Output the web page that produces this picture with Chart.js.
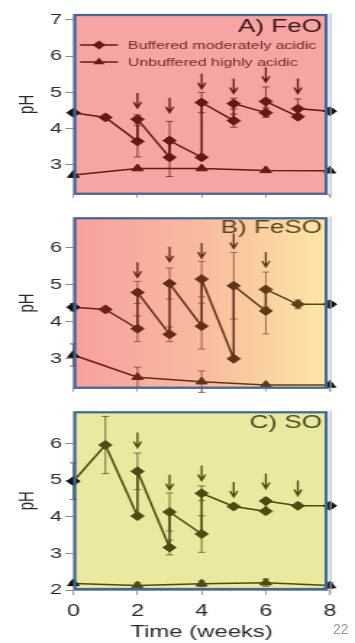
<!DOCTYPE html>
<html>
<head>
<meta charset="utf-8">
<script src="https://cdn.jsdelivr.net/npm/chart.js@4/dist/chart.umd.min.js"></script>
<style>
  body { margin: 0; background: #fff; }
  #wrap { position: relative; width: 355px; height: 643px; }
  canvas { position: absolute; left: 0; }
  #pagina { position: absolute; left: 333px; top: 621px; font: 14px "Liberation Sans", Arial, sans-serif; color: #9a9a9a; }
</style>
</head>
<body>
<div id="wrap">
  <!-- the original figure is stretched sideways, so the canvases are drawn narrow and widened by css -->
  <canvas id="graficoA" width="245" height="206" style="top:0;width:355px;height:206px"></canvas>
  <canvas id="graficoB" width="245" height="194" style="top:206px;width:355px;height:194px"></canvas>
  <canvas id="graficoC" width="245" height="243" style="top:400px;width:355px;height:243px"></canvas>
  <div id="pagina">22</div>
</div>
<script>
// Datos comunes
const xTicks = [0, 2, 4, 6, 8];
const sampleWeeks = [0, 2, 4, 6, 8];
const seriesNames = ["Buffered moderately acidic", "Unbuffered highly acidic"];
const panelTitles = ["A) FeO", "B) FeSO", "C) SO"];

// A) FeO
const weeksA = [0, 1, 2, 2, 3, 3, 4, 4, 5, 5, 6, 6, 7, 7, 8];
const bufferedA = [4.44, 4.31, 3.65, 4.26, 3.21, 3.67, 3.21, 4.72, 4.22, 4.69, 4.44, 4.75, 4.33, 4.55, 4.48];
const bufferedErrA = [0.05, 0.06, 0.43, 0.12, 0.53, 0.53, 0.05, 0.28, 0.18, 0.15, 0.13, 0.4, 0.07, 0.27, 0.04];
const unbufferedA = [2.72, 2.9, 2.9, 2.85, 2.84];
const unbufferedErrA = [0, 0, 0, 0, 0];
const arrowWeeksA = [2, 3, 4, 5, 6, 7];
const arrowTipsA = [4.57, 4.44, 5.1, 4.97, 5.28, 4.97];
const yTicksA = [3, 4, 5, 6, 7];

// B) FeSO
const weeksB = [0, 1, 2, 2, 3, 3, 4, 4, 5, 5, 6, 6, 7, 8];
const bufferedB = [4.39, 4.33, 3.81, 4.79, 3.66, 5.03, 3.88, 5.15, 3.0, 4.97, 4.29, 4.87, 4.47, 4.47];
const bufferedErrB = [0.1, 0.05, 0.35, 0.3, 0.2, 0.42, 0.62, 0.48, 0.03, 0.9, 0.62, 0.47, 0.12, 0.04];
const unbufferedB = [3.1, 2.5, 2.38, 2.29, 2.29];
const unbufferedErrB = [0.3, 0.27, 0.29, 0.04, 0.04];
const arrowWeeksB = [2, 3, 4, 5, 6];
const arrowTipsB = [5.2, 5.62, 5.72, 5.98, 5.48];
const yTicksB = [3, 4, 5, 6];

// C) SO
const weeksC = [0, 1, 2, 2, 3, 3, 4, 4, 5, 6, 6, 7, 8];
const bufferedC = [4.97, 5.96, 4.02, 5.24, 3.16, 4.13, 3.53, 4.64, 4.28, 4.15, 4.43, 4.3, 4.3];
const bufferedErrC = [0.5, 0.78, 0.05, 0.5, 0.2, 0.52, 0.5, 0.2, 0.05, 0.05, 0.05, 0.07, 0.05];
const unbufferedC = [2.18, 2.12, 2.17, 2.2, 2.12];
const unbufferedErrC = [0.05, 0.08, 0.08, 0.1, 0.08];
const arrowWeeksC = [2, 3, 4, 5, 6, 7];
const arrowTipsC = [5.89, 4.74, 4.99, 4.54, 4.77, 4.58];
const yTicksC = [2, 3, 4, 5, 6];

const fuente = '"Liberation Sans", Arial, sans-serif';
Chart.defaults.font.family = fuente;

// Devuelve un color plano o un degradado horizontal sobre el area del grafico
function pintar(chart, colores) {
    if (colores.length === 1) return colores[0];
    const area = chart.chartArea;
    if (!area) return colores[0];
    const g = chart.ctx.createLinearGradient(area.left, 0, area.right, 0);
    colores.forEach((c, i) => g.addColorStop(i / (colores.length - 1), c));
    return g;
}

function esExtremo(ctx) {
    return ctx.raw && (ctx.raw.x === xTicks[0] || ctx.raw.x === xTicks[xTicks.length - 1]);
}

function panelPlugin(cfg) {
    return {
        id: "panel",
        beforeDatasetsDraw(chart) {
            const {ctx, chartArea: a, scales: {x, y}} = chart;
            ctx.save();
            // fondo de color
            ctx.fillStyle = pintar(chart, cfg.fondo);
            ctx.fillRect(a.left, a.top, a.right - a.left - 2.4, a.bottom - a.top);
            // barras de error
            ctx.strokeStyle = pintar(chart, cfg.colorError);
            ctx.lineWidth = 1;
            chart.data.datasets.forEach(ds => {
                ds.data.forEach((p, i) => {
                    const e = ds.errores[i];
                    if (!e) return;
                    const px = x.getPixelForValue(p.x);
                    const arriba = y.getPixelForValue(p.y + e);
                    const abajo = y.getPixelForValue(p.y - e);
                    ctx.beginPath();
                    ctx.moveTo(px, arriba); ctx.lineTo(px, abajo);
                    ctx.moveTo(px - 2.5, arriba); ctx.lineTo(px + 2.5, arriba);
                    ctx.moveTo(px - 2.5, abajo); ctx.lineTo(px + 2.5, abajo);
                    ctx.stroke();
                });
            });
            ctx.restore();
        },
        afterDatasetsDraw(chart) {
            const {ctx, chartArea: a, scales: {x, y}} = chart;
            ctx.save();
            // marco gris del eje original
            ctx.strokeStyle = "#b4b4b4";
            ctx.lineWidth = 1;
            ctx.beginPath();
            ctx.moveTo(a.right + 0.5, a.top - 1);
            ctx.lineTo(a.right + 0.5, a.bottom + 3);
            ctx.stroke();
            // recuadro azul
            ctx.strokeStyle = "#41679b";
            ctx.lineWidth = 2.2;
            ctx.strokeRect(a.left + 1, a.top + 1, a.right - a.left - 3.6, a.bottom - a.top - 2);

            // flechas de adicion
            ctx.strokeStyle = pintar(chart, cfg.colorLinea);
            ctx.lineWidth = 1.3;
            cfg.flechas.forEach((w, i) => {
                const px = x.getPixelForValue(w);
                const py = y.getPixelForValue(cfg.puntas[i]);
                ctx.beginPath();
                ctx.moveTo(px, py - 15); ctx.lineTo(px, py);
                ctx.moveTo(px - 2.6, py - 6); ctx.lineTo(px, py); ctx.lineTo(px + 2.6, py - 6);
                ctx.stroke();
            });

            // titulo del panel
            ctx.fillStyle = cfg.colorTitulo;
            ctx.font = "18px " + fuente;
            ctx.textAlign = "right";
            ctx.textBaseline = "middle";
            ctx.fillText(cfg.titulo, a.right - 5.5, a.top + cfg.tituloY);

            // leyenda (solo panel A)
            if (cfg.leyenda) {
                const col = pintar(chart, cfg.colorLinea);
                [31, 48].forEach((dy, i) => {
                    const ly = a.top + dy;
                    ctx.strokeStyle = col;
                    ctx.fillStyle = col;
                    ctx.lineWidth = 1.5;
                    ctx.beginPath();
                    ctx.moveTo(a.left + 4.6, ly); ctx.lineTo(a.left + 30.8, ly);
                    ctx.stroke();
                    const mx = a.left + 17.7;
                    ctx.beginPath();
                    if (i === 0) {
                        ctx.moveTo(mx, ly - 4.5); ctx.lineTo(mx + 4.5, ly);
                        ctx.lineTo(mx, ly + 4.5); ctx.lineTo(mx - 4.5, ly);
                    } else {
                        ctx.moveTo(mx, ly - 4.5); ctx.lineTo(mx + 3.9, ly + 2.25);
                        ctx.lineTo(mx - 3.9, ly + 2.25);
                    }
                    ctx.closePath();
                    ctx.fill();
                    ctx.fillStyle = "#7a2424";
                    ctx.font = "11px " + fuente;
                    ctx.textAlign = "left";
                    ctx.fillText(seriesNames[i], a.left + 37.7, ly + 0.5);
                });
            }
            ctx.restore();
        }
    };
}

function crearPanel(id, cfg) {
    const puntos = (xs, ys) => xs.map((w, i) => ({x: w, y: ys[i]}));
    const colorLinea = c => pintar(c.chart, cfg.colorLinea);
    const colorPunto = c => esExtremo(c) ? "#111111" : pintar(c.chart, cfg.colorLinea);
    const base = {
        showLine: true,
        borderWidth: 1.5,
        borderColor: colorLinea,
        pointBackgroundColor: colorPunto,
        pointBorderColor: colorPunto,
        pointBorderWidth: 1,
        pointRadius: 4.5,
        tension: 0,
        clip: false
    };
    const conEjeX = cfg.ejeX;

    return new Chart(document.getElementById(id), {
        type: "scatter",
        data: {
            datasets: [
                Object.assign({}, base, {
                    label: seriesNames[0],
                    data: puntos(cfg.semanas, cfg.buffered),
                    errores: cfg.bufferedErr,
                    pointStyle: "rectRot"
                }),
                Object.assign({}, base, {
                    label: seriesNames[1],
                    data: puntos(sampleWeeks, cfg.unbuffered),
                    errores: cfg.unbufferedErr,
                    pointStyle: "triangle"
                })
            ]
        },
        options: {
            responsive: false,
            animation: false,
            devicePixelRatio: 1,
            layout: { padding: { top: cfg.padTop, bottom: 0, left: 0, right: 17.3 } },
            plugins: {
                legend: { display: false },
                tooltip: { enabled: false }
            },
            scales: {
                x: {
                    type: "linear",
                    min: 0,
                    max: 8,
                    afterBuildTicks: s => { s.ticks = xTicks.map(v => ({value: v})); },
                    afterFit: s => { s.height = cfg.altoEjeX; },
                    grid: { drawOnChartArea: false, tickLength: conEjeX ? 5 : 3, color: "#9a9a9a" },
                    border: { color: "#9a9a9a" },
                    ticks: { display: conEjeX, color: "#2a2a2a", padding: 7.1, maxRotation: 0, font: { size: 16 } },
                    title: {
                        display: conEjeX,
                        text: "Time (weeks)",
                        color: "#2a2a2a",
                        font: { size: 16.5 },
                        padding: { top: 0, bottom: 1.1 }
                    }
                },
                y: {
                    min: cfg.yMin,
                    max: cfg.yMax,
                    afterBuildTicks: s => { s.ticks = cfg.yTicks.map(v => ({value: v})); },
                    afterFit: s => { s.width = 50.6; },
                    grid: { drawOnChartArea: false, tickLength: 5.5, color: "#8a8a8a" },
                    border: { display: false },
                    ticks: { color: "#2a2a2a", padding: 2.3, font: { size: 15 } },
                    title: {
                        display: true,
                        text: "pH",
                        color: "#2a2a2a",
                        font: { size: 15 },
                        padding: { top: 10.3, bottom: 0 }
                    }
                }
            }
        },
        plugins: [panelPlugin(cfg)]
    });
}

crearPanel("graficoA", {
    semanas: weeksA, buffered: bufferedA, bufferedErr: bufferedErrA,
    unbuffered: unbufferedA, unbufferedErr: unbufferedErrA,
    flechas: arrowWeeksA, puntas: arrowTipsA, yTicks: yTicksA,
    yMin: 2.18, yMax: 7.16, padTop: 14, altoEjeX: 4, ejeX: false,
    titulo: panelTitles[0], tituloY: 13, colorTitulo: "#3c1414", leyenda: true,
    fondo: ["#f6a4a4"], colorLinea: ["#6a1616"], colorError: ["#8e3a3a"]
});

crearPanel("graficoB", {
    semanas: weeksB, buffered: bufferedB, bufferedErr: bufferedErrB,
    unbuffered: unbufferedB, unbufferedErr: unbufferedErrB,
    flechas: arrowWeeksB, puntas: arrowTipsB, yTicks: yTicksB,
    yMin: 2.19, yMax: 6.82, padTop: 3, altoEjeX: 5, ejeX: false,
    titulo: panelTitles[1], tituloY: 11, colorTitulo: "#5a4420", leyenda: false,
    fondo: ["#f8a0a0", "#f9bb9f", "#fde8a6"], colorLinea: ["#6e1c1c", "#5a4414"], colorError: ["#a04a3c", "#9a7a48"]
});

crearPanel("graficoC", {
    semanas: weeksC, buffered: bufferedC, bufferedErr: bufferedErrC,
    unbuffered: unbufferedC, unbufferedErr: unbufferedErrC,
    flechas: arrowWeeksC, puntas: arrowTipsC, yTicks: yTicksC,
    yMin: 2.0, yMax: 6.88, padTop: 1, altoEjeX: 53, ejeX: true,
    titulo: panelTitles[2], tituloY: 12, colorTitulo: "#4a4a22", leyenda: false,
    fondo: ["#e9e9a0"], colorLinea: ["#4c4c12"], colorError: ["#74743a"]
});
</script>
</body>
</html>
